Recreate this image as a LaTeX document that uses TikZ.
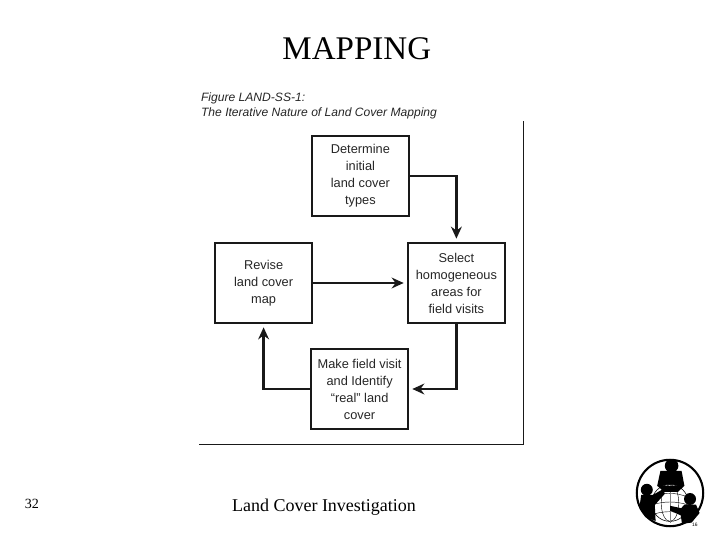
\documentclass[tikz,border=0pt]{standalone}
\usepackage{fontspec}
\setmainfont{Liberation Serif}
\newfontfamily\labelfont{Liberation Sans}
\usetikzlibrary{arrows.meta, positioning}

\tikzset{
  stagebox/.style={draw=black!90, line width=1.6pt, minimum width=2.42cm, minimum height=2cm,
    inner sep=0pt, align=center, text=black!85, font=\labelfont\fontsize{9.1}{12.1}\selectfont},
  stagearrow/.style={->, line width=1.6pt, draw=black!90, shorten >=0.8mm},
}

\begin{document}
\begin{tikzpicture}[>={Stealth[length=3mm,width=2.7mm]}]
  \useasboundingbox (0,0) rectangle (18,13.5);

  % Headings
  \node (title) at (8.92,12.27) {\fontsize{23.5}{26}\selectfont MAPPING};
  \node[anchor=north west, inner sep=0pt, align=left, text=black!85,
    font=\labelfont\itshape\fontsize{8.6}{11.3}\selectfont] (caption) at (5.02,11.2)
    {Figure LAND-SS-1:\\The Iterative Nature of Land Cover Mapping};

  % Stages
  \node[stagebox] (determine) at (9.01,9.10) {Determine\\initial\\land cover\\types};
  \node[stagebox] (revise) at (6.59,6.425) {Revise\\land cover\\map};
  \node[stagebox] (select) at (11.41,6.425) {Select\\homogeneous\\areas for\\field visits};
  \node[stagebox] (visit) at (8.99,3.775) {Make field visit\\and Identify\\“real” land\\cover};

  % Cycle
  \draw[stagearrow] (determine.east) -| (select.north);
  \draw[stagearrow] (revise.east) -- (select.west);
  \draw[stagearrow] (select.south) |- (visit.east);
  \draw[stagearrow] (visit.west) -| (revise.south);

  % Frame
  \coordinate (frametop) at (13.08,10.47);
  \coordinate (framecorner) at (13.08,2.4);
  \coordinate (frameleft) at (4.97,2.4);
  \draw[line width=0.7pt, black!90] (frametop) -- (framecorner) -- (frameleft);

  % Footer
  \node (pagenum) at (0.8,0.9) {\fontsize{10}{12}\selectfont 32};
  \node (footer) at (8.1,0.82) {\fontsize{12.8}{15}\selectfont Land Cover Investigation};

  % Logo
  \begin{scope}[shift={(16.75,1.175)}]
    \draw[line width=1.5pt] (0,0) circle (0.83);
    \fill[black] (0.04,0.68) circle (0.17);
    \fill[black] (-0.24,0.55) -- (0.29,0.55) -- (0.36,0.18) -- (-0.32,0.18) -- cycle;
    \fill[white] (0,-0.25) circle (0.46);
    \draw[line width=0.4pt] (0,-0.25) circle (0.46);
    \draw[line width=0.3pt] (0,-0.25) ellipse (0.22 and 0.46);
    \draw[line width=0.3pt] (-0.44,-0.1) .. controls (-0.15,0.02) and (0.15,0.02) .. (0.44,-0.1);
    \draw[line width=0.3pt] (-0.46,-0.3) .. controls (-0.15,-0.2) and (0.15,-0.2) .. (0.46,-0.3);
    \draw[line width=0.3pt] (-0.38,-0.52) .. controls (-0.15,-0.45) and (0.15,-0.45) .. (0.38,-0.52);
    \draw[line width=0.3pt, gray] (0,0.2) -- (0,-0.75);
    \fill[black] (-0.32,0.18) -- (0.36,0.18) -- (0.2,0.03) -- (-0.15,0.03) -- cycle;
    \fill[black] (-0.58,0.08) circle (0.15);
    \fill[black] (-0.72,-0.05) -- (-0.43,-0.05) -- (-0.17,0.1) -- (-0.13,-0.02) -- (-0.38,-0.3)
      -- (-0.36,-0.7) -- (-0.62,-0.6) -- (-0.76,-0.33) -- cycle;
    \fill[black] (0.5,-0.15) circle (0.15);
    \fill[black] (0.36,-0.29) -- (0.65,-0.29) -- (0.74,-0.5) -- (0.54,-0.74) -- (0.3,-0.77)
      -- (0.27,-0.56) -- (0,-0.44) -- (0,-0.32) -- (0.28,-0.38) -- cycle;
    \node[inner sep=0pt, font=\labelfont\fontsize{3.5}{4}\selectfont] (logomark) at (0.62,-0.79) {16};
  \end{scope}
\end{tikzpicture}
\end{document}
